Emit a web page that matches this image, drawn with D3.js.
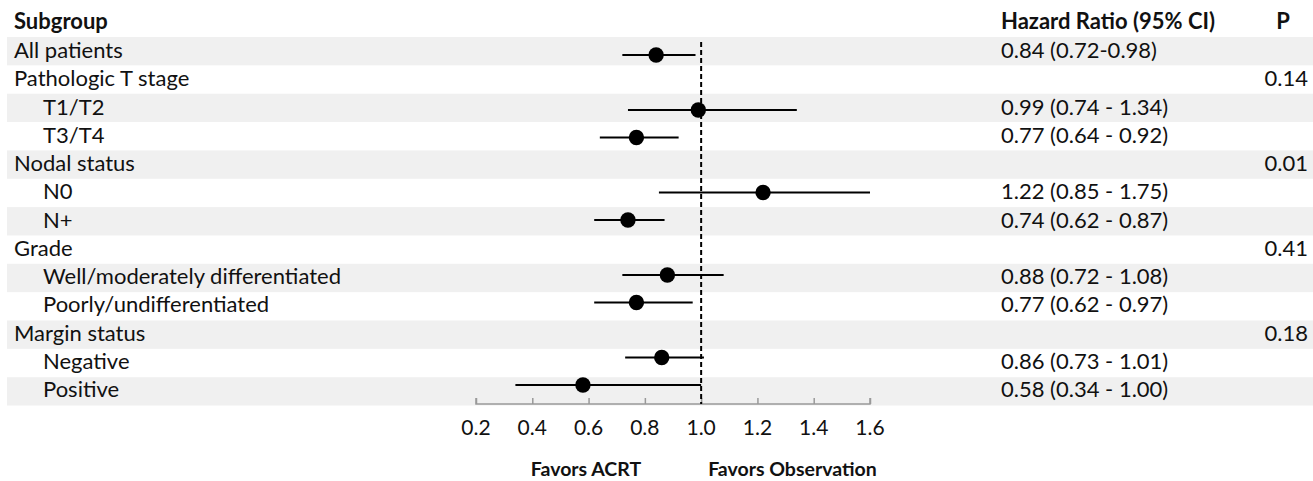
<!DOCTYPE html>
<html>
<head>
<meta charset="utf-8">
<script src="https://cdn.jsdelivr.net/npm/d3@7"></script>
<style>
  body { margin: 0; background: #fff; }
  svg text { font-family: Lato, "Open Sans", sans-serif; fill: #111; }
</style>
</head>
<body>
<div id="chart"></div>
<script>
// subgroup rows (level 0 = group header, 1 = indented subgroup)
const labels = ["All patients", "Pathologic T stage", "T1/T2", "T3/T4", "Nodal status", "N0", "N+",
    "Grade", "Well/moderately differentiated", "Poorly/undifferentiated", "Margin status", "Negative", "Positive"];
const levels = [0, 0, 1, 1, 0, 1, 1, 0, 1, 1, 0, 1, 1];
const hr = [0.84, null, 0.99, 0.77, null, 1.22, 0.74, null, 0.88, 0.77, null, 0.86, 0.58];
const lower = [0.72, null, 0.74, 0.64, null, 0.85, 0.62, null, 0.72, 0.62, null, 0.73, 0.34];
const upper = [0.98, null, 1.34, 0.92, null, 1.75, 0.87, null, 1.08, 0.97, null, 1.01, 1.00];
const hrText = ["0.84 (0.72-0.98)", "", "0.99 (0.74 - 1.34)", "0.77 (0.64 - 0.92)", "", "1.22 (0.85 - 1.75)",
    "0.74 (0.62 - 0.87)", "", "0.88 (0.72 - 1.08)", "0.77 (0.62 - 0.97)", "", "0.86 (0.73 - 1.01)", "0.58 (0.34 - 1.00)"];
const pText = ["", "0.14", "", "", "0.01", "", "", "0.41", "", "", "0.18", "", ""];
const xTicks = [0.2, 0.4, 0.6, 0.8, 1.0, 1.2, 1.4, 1.6];

const width = 1313, height = 481;
const rowTop = 37, rowH = 28.35;
const fontSize = 22;
const n = labels.length;

const svg = d3.select("#chart").append("svg")
    .attr("width", width)
    .attr("height", height);

const x = d3.scaleLinear().domain([0.2, 1.6]).range([476, 870]);
// table bands
const y = d3.scaleBand().domain(d3.range(n))
    .range([rowTop, rowTop + rowH * n]).padding(0);
// text baselines and plot rows sit on slightly different grids than the bands
const yText = d3.scaleLinear().domain([0, n - 1]).range([58, 397]);
const yPlot = d3.scaleLinear().domain([0, n - 1]).range([55, 385]);

const rows = labels.map((d, i) => ({
    label: d, level: levels[i], hr: hr[i], lo: lower[i], hi: upper[i], hrText: hrText[i], p: pText[i], i: i
}));

// alternating shaded bands
svg.append("g").selectAll("rect")
    .data(rows.filter(d => d.i % 2 === 0))
    .join("rect")
    .attr("x", 7)
    .attr("y", d => y(d.i))
    .attr("width", width - 7)
    .attr("height", y.bandwidth())
    .attr("fill", "#f0f0f0");

// headers
const header = svg.append("g").attr("font-weight", "bold").attr("font-size", fontSize);
header.append("text").attr("x", 14).attr("y", 29).text("Subgroup");
header.append("text").attr("x", 1001).attr("y", 29).text("Hazard Ratio (95% CI)");
header.append("text").attr("x", 1283).attr("y", 29).attr("text-anchor", "middle").text("P");

// row texts
const txt = svg.append("g").attr("font-size", fontSize);
txt.selectAll(".lbl").data(rows).join("text")
    .attr("class", "lbl")
    .attr("x", d => d.level ? 43 : 14)
    .attr("y", d => yText(d.i))
    .text(d => d.label);

txt.selectAll(".hr").data(rows).join("text")
    .attr("class", "hr")
    .attr("x", 1001)
    .attr("y", d => yText(d.i))
    .text(d => d.hrText);

txt.selectAll(".p").data(rows).join("text")
    .attr("class", "p")
    .attr("x", 1308)
    .attr("text-anchor", "end")
    .attr("y", d => yText(d.i))
    .text(d => d.p);

// axis
const axisY = 404;
const axis = svg.append("g")
    .attr("transform", `translate(0,${axisY})`)
    .call(d3.axisTop(x).tickValues(xTicks).tickSize(6).tickFormat(""));
axis.select(".domain").attr("stroke", "#999").attr("stroke-width", 1.5).attr("d", `M${x(0.2)},-6V0H${x(1.6)}V-6`);
axis.selectAll(".tick line").attr("stroke", "#999").attr("stroke-width", 1.5);

svg.append("g").attr("font-size", 21)
    .selectAll("text").data(xTicks).join("text")
    .attr("x", d => x(d))
    .attr("y", 435)
    .attr("text-anchor", "middle")
    .text(d => d3.format(".1f")(d));

// reference line at HR = 1
svg.append("line")
    .attr("x1", x(1)).attr("x2", x(1))
    .attr("y1", 42).attr("y2", axisY)
    .attr("stroke", "#000")
    .attr("stroke-width", 2)
    .attr("stroke-dasharray", "5,3");

// confidence intervals and point estimates
const est = rows.filter(d => d.hr !== null);
const clip = v => Math.max(0.2, Math.min(1.6, v));
const cy = d => yPlot(d.i);

svg.append("g").selectAll("line").data(est).join("line")
    .attr("x1", d => x(clip(d.lo)))
    .attr("x2", d => x(clip(d.hi)))
    .attr("y1", cy).attr("y2", cy)
    .attr("stroke", "#000")
    .attr("stroke-width", 2.2);

svg.append("g").selectAll("circle").data(est).join("circle")
    .attr("cx", d => x(d.hr))
    .attr("cy", cy)
    .attr("r", 7.7)
    .attr("fill", "#000");

// favors labels
const fav = svg.append("g").attr("font-weight", "bold").attr("font-size", 19.5);
fav.append("text").attr("x", x(1) - 60).attr("y", 476).attr("text-anchor", "end").text("Favors ACRT");
fav.append("text").attr("x", x(1) + 7).attr("y", 476).text("Favors Observation");
</script>
</body>
</html>
